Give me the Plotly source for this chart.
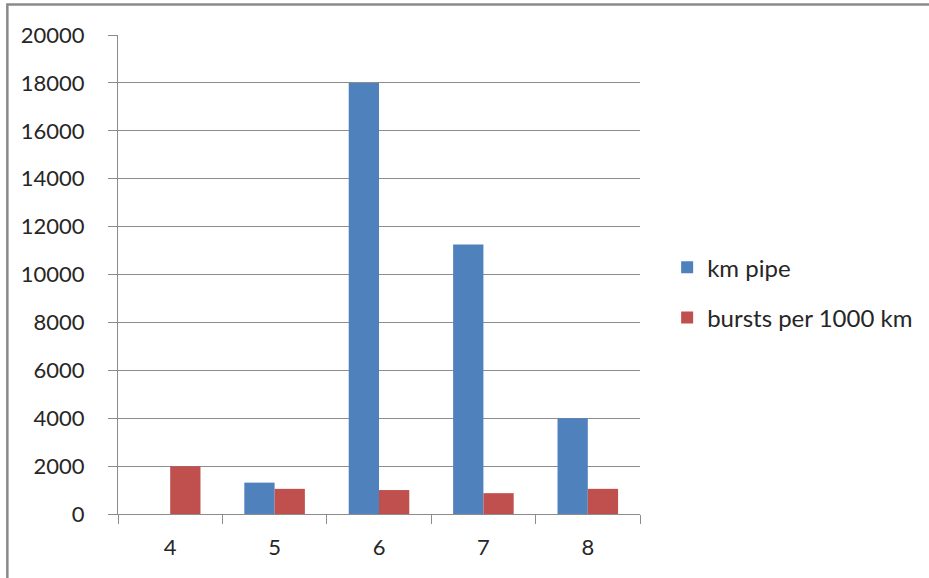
import plotly.graph_objects as go

# Pipe diameter classes and the two measured series
categories = ["4", "5", "6", "7", "8"]
km_pipe = [0, 1310, 18000, 11250, 4000]
bursts_per_1000km = [1990, 1050, 1000, 870, 1050]
y_ticks = [0, 2000, 4000, 6000, 8000, 10000, 12000, 14000, 16000, 18000, 20000]

BLUE = "#4F81BD"
RED = "#C0504D"
GRID = "#8C8C8C"
TEXT = "#262626"
FONT = "Lato, Carlito, 'Liberation Sans', sans-serif"
TICK_SIZE = 22
LEGEND_SIZE = 24

fig = go.Figure()
fig.add_trace(go.Bar(name="km pipe", x=categories, y=km_pipe, marker_color=BLUE,
                     marker_line_width=0, legendgroup="a"))
fig.add_trace(go.Bar(name="bursts per 1000 km", x=categories, y=bursts_per_1000km,
                     marker_color=RED, marker_line_width=0, legendgroup="b"))

fig.update_layout(
    width=929, height=578,
    margin=dict(l=118, r=288, t=35, b=64),
    paper_bgcolor="white", plot_bgcolor="white",
    font=dict(family=FONT, size=TICK_SIZE, color=TEXT),
    barmode="group", bargap=0.42, bargroupgap=0,
    showlegend=True,
    legend=dict(x=1.05, y=0.462, xanchor="left", yanchor="middle",
                font=dict(size=LEGEND_SIZE, color=TEXT), tracegroupgap=16,
                traceorder="grouped", itemwidth=30, bgcolor="rgba(0,0,0,0)"),
    xaxis=dict(type="category", showgrid=False, showline=True, linecolor=GRID,
               linewidth=1, ticks="outside", ticklen=9, tickcolor=GRID,
               tickson="boundaries", tickfont=dict(size=TICK_SIZE, color=TEXT),
               ticklabelstandoff=14),
    yaxis=dict(range=[0, 20000], tickvals=y_ticks, tickformat="d", showgrid=True,
               gridcolor=GRID, gridwidth=1, showline=True, linecolor=GRID,
               linewidth=1, ticks="outside", ticklen=9, tickcolor=GRID,
               zeroline=False, tickfont=dict(size=TICK_SIZE, color=TEXT),
               ticklabelstandoff=19),
    shapes=[
        # outer chart frame (left and top edges are visible)
        dict(type="rect", xref="paper", yref="paper", x0=-0.212, x1=1.8,
             y0=-0.3, y1=1.0635, line=dict(color="#8A8A8A", width=2.5),
             fillcolor="rgba(0,0,0,0)", layer="below"),
    ],
)

fig.write_html("out.html")
